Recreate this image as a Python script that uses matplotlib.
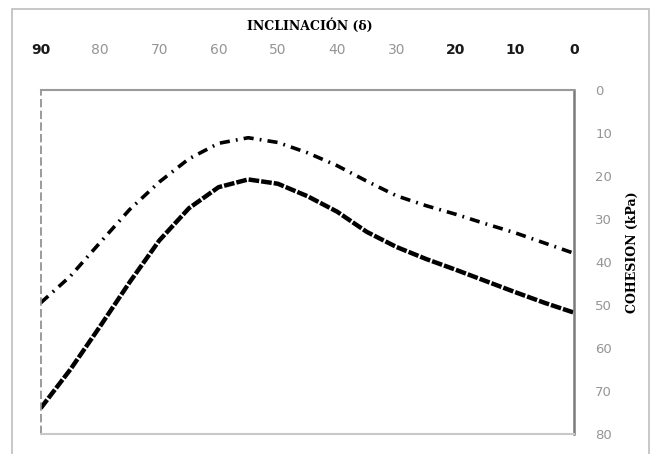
import matplotlib
matplotlib.use("Agg")
import matplotlib.pyplot as plt
from matplotlib.patches import Rectangle

# Data
inclinacion = [90, 85, 80, 75, 70, 65, 60, 55, 50, 45, 40, 35, 30, 25, 20, 15, 10, 5, 0]
cohesion_inferior = [74.0, 65.0, 55.0, 44.7, 35.0, 27.5, 22.6, 20.8, 21.8, 24.7, 28.3,
                     33.0, 36.5, 39.3, 41.8, 44.4, 47.0, 49.5, 51.8]
cohesion_superior = [49.5, 43.3, 35.5, 27.8, 21.4, 16.0, 12.4, 11.1, 12.2, 14.6, 17.6,
                     21.2, 24.6, 26.9, 28.9, 31.1, 33.2, 35.6, 38.0]
x_ticks = [90, 80, 70, 60, 50, 40, 30, 20, 10, 0]
y_ticks = [0, 10, 20, 30, 40, 50, 60, 70, 80]
bold_x_labels = [90, 20, 10, 0]

W, H = 653, 454
fig = plt.figure(figsize=(W / 100, H / 100), dpi=100)
fig.patch.set_facecolor("white")

# outer chart border
fig.add_artist(Rectangle((12.5 / W, -0.02), (648.5 - 12.5) / W, 1 - 9 / H + 0.02,
                         transform=fig.transFigure, fill=False, ec="#bdbdbd", lw=1.2))

left, right, top, bottom = 40.7, 574.3, 90, 434
ax = fig.add_axes([left / W, 1 - bottom / H, (right - left) / W, (bottom - top) / H])

ax.plot(inclinacion, cohesion_superior, color="black", lw=2.6,
        linestyle=(0, (2.8, 1.7, 0.5, 1.7)), solid_capstyle="butt", dash_capstyle="butt")
ax.plot(inclinacion, cohesion_inferior, color="black", lw=3.2,
        linestyle=(0, (2.4, 0.45)), dash_capstyle="butt")

ax.set_xlim(90, 0)
ax.set_ylim(80, 0)

ax.xaxis.tick_top()
ax.xaxis.set_label_position("top")
ax.yaxis.tick_right()
ax.yaxis.set_label_position("right")

ax.set_xticks(x_ticks)
ax.set_xticklabels([str(v) for v in x_ticks])
ax.set_yticks(y_ticks)
ax.set_yticklabels([str(v) for v in y_ticks])

ax.tick_params(axis="x", length=0, pad=24, labelsize=10)
ax.tick_params(axis="y", length=0, pad=15, labelsize=9.5, labelcolor="#959595")
for lab, v in zip(ax.get_xticklabels(), x_ticks):
    if v in bold_x_labels:
        lab.set_color("#1a1a1a")
        lab.set_fontweight("bold")
    else:
        lab.set_color("#959595")

for side in ["top", "right", "bottom", "left"]:
    ax.spines[side].set_visible(True)
ax.spines["top"].set_color("#9a9a9a")
ax.spines["top"].set_linewidth(1.5)
ax.spines["right"].set_color("#7a7a7a")
ax.spines["right"].set_linewidth(1.8)
ax.spines["bottom"].set_color("#c8c8c8")
ax.spines["bottom"].set_linewidth(1.5)
ax.spines["left"].set_visible(False)
ax.axvline(90, color="#8a8a8a", lw=1.2, linestyle=(0, (5, 2)), clip_on=False)

fig.text(310 / W, 1 - 26 / H, "INCLINACIÓN (δ)", ha="center", va="center",
         fontsize=9, fontweight="bold", family="DejaVu Serif", color="black")
fig.text(632 / W, 1 - 252 / H, "COHESION (kPa)", ha="center", va="center",
         rotation=90, fontsize=9, fontweight="bold", family="DejaVu Serif", color="black")

fig.savefig("out.png", dpi=100, facecolor="white")
